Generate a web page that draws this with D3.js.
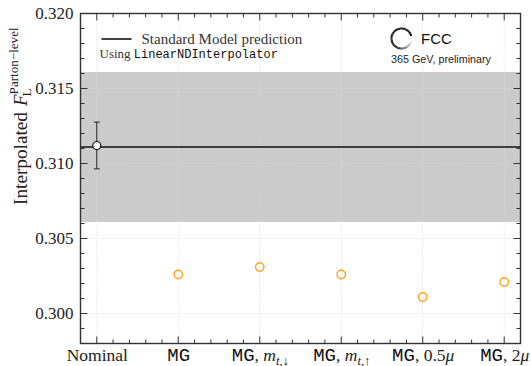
<!DOCTYPE html>
<html>
<head>
<meta charset="utf-8">
<script src="https://cdn.jsdelivr.net/npm/d3@7"></script>
<style>
  html, body { margin: 0; padding: 0; background: #fff; }
  svg { display: block; }
</style>
</head>
<body>
<div id="chart"></div>
<script>
// ---- data ----
const categories = ["Nominal", "MG", "MG_mt_down", "MG_mt_up", "MG_05mu", "MG_2mu"];
// tick label pieces: [text, style]
const tickLabels = [
  [["Nominal", "serif"]],
  [["MG", "mono"]],
  [["MG", "mono"], [", ", "serif"], ["m", "italic"], ["t", "subi"], [",↓", "sub"]],
  [["MG", "mono"], [", ", "serif"], ["m", "italic"], ["t", "subi"], [",↑", "sub"]],
  [["MG", "mono"], [", 0.5", "serif"], ["μ", "italic"]],
  [["MG", "mono"], [", 2", "serif"], ["μ", "italic"]]
];
const nominalValue = 0.3112;
const nominalError = 0.00156;
const variationValues = [0.3026, 0.3031, 0.3026, 0.3011, 0.3021]; // MG variations
const smPrediction = 0.3111;
const smUncertainty = 0.005;
const yTicks = [0.300, 0.305, 0.310, 0.315, 0.320];

// ---- layout ----
const W = 531, H = 366;
const mLeft = 80.5, mRight = 520.5, mTop = 13.5, mBottom = 343.5;

const svg = d3.select("#chart").append("svg").attr("width", W).attr("height", H);

const x = d3.scaleLinear().domain([-0.2, 5.2]).range([mLeft, mRight]);
const y = d3.scaleLinear().domain([0.298, 0.320]).range([mBottom, mTop]);

const serif = "'Liberation Serif', 'DejaVu Serif', serif";
const mono = "'Liberation Mono', 'DejaVu Sans Mono', monospace";
const sans = "'Liberation Sans', Arial, sans-serif";

// clip for plot contents
svg.append("clipPath").attr("id", "plotclip").append("rect")
  .attr("x", mLeft).attr("y", mTop).attr("width", mRight - mLeft).attr("height", mBottom - mTop);
const plot = svg.append("g").attr("clip-path", "url(#plotclip)");

// SM uncertainty band
plot.append("rect")
  .attr("x", mLeft).attr("width", mRight - mLeft)
  .attr("y", y(smPrediction + smUncertainty))
  .attr("height", y(smPrediction - smUncertainty) - y(smPrediction + smUncertainty))
  .attr("fill", "#cbcbcb");

// grid (dotted)
const gridStyle = g => g.attr("stroke", "#d9d9d9").attr("stroke-width", 0.8).attr("stroke-dasharray", "1.2,1.6");
plot.append("g").selectAll("line").data(d3.range(categories.length)).join("line")
  .attr("x1", d => x(d)).attr("x2", d => x(d)).attr("y1", mTop).attr("y2", mBottom).call(gridStyle);
plot.append("g").selectAll("line").data(yTicks).join("line")
  .attr("y1", d => y(d)).attr("y2", d => y(d)).attr("x1", mLeft).attr("x2", mRight).call(gridStyle);

// SM prediction line
plot.append("line")
  .attr("x1", mLeft).attr("x2", mRight)
  .attr("y1", y(smPrediction)).attr("y2", y(smPrediction))
  .attr("stroke", "#111").attr("stroke-width", 1.5);

// nominal point with error bar
const nx = x(0);
plot.append("line").attr("x1", nx).attr("x2", nx)
  .attr("y1", y(nominalValue + nominalError)).attr("y2", y(nominalValue - nominalError))
  .attr("stroke", "#222").attr("stroke-width", 1);
[nominalValue + nominalError, nominalValue - nominalError].forEach(v => {
  plot.append("line").attr("x1", nx - 3).attr("x2", nx + 3)
    .attr("y1", y(v)).attr("y2", y(v)).attr("stroke", "#222").attr("stroke-width", 1);
});
plot.append("circle").attr("cx", nx).attr("cy", y(nominalValue)).attr("r", 4)
  .attr("fill", "#fff").attr("stroke", "#111").attr("stroke-width", 1.2);

// variation points
plot.append("g").selectAll("circle").data(variationValues).join("circle")
  .attr("cx", (d, i) => x(i + 1)).attr("cy", d => y(d)).attr("r", 4.2)
  .attr("fill", "#fff").attr("stroke", "#ffa21a").attr("stroke-width", 1.4);

// ---- axes (ticks pointing inward on all sides) ----
const frame = "#333";
const majorLen = 7, minorLen = 4;
const xMinor = d3.range(-0.2, 5.21, 0.2).filter(v => Math.abs(v - Math.round(v)) > 1e-6);
const yMinor = d3.range(0.298, 0.3201, 0.001).filter(v => yTicks.every(t => Math.abs(t - v) > 1e-6));

const tickG = svg.append("g").attr("stroke", frame).attr("stroke-width", 1);
function hTicks(vals, len) {
  tickG.append("g").selectAll("line").data(vals).join("line")
    .attr("x1", d => x(d)).attr("x2", d => x(d)).attr("y1", mBottom).attr("y2", mBottom - len);
  tickG.append("g").selectAll("line").data(vals).join("line")
    .attr("x1", d => x(d)).attr("x2", d => x(d)).attr("y1", mTop).attr("y2", mTop + len);
}
function vTicks(vals, len) {
  tickG.append("g").selectAll("line").data(vals).join("line")
    .attr("y1", d => y(d)).attr("y2", d => y(d)).attr("x1", mLeft).attr("x2", mLeft + len);
  tickG.append("g").selectAll("line").data(vals).join("line")
    .attr("y1", d => y(d)).attr("y2", d => y(d)).attr("x1", mRight).attr("x2", mRight - len);
}
hTicks(d3.range(categories.length), majorLen);
hTicks(xMinor, minorLen);
vTicks(yTicks, majorLen);
vTicks(yMinor, minorLen);

svg.append("rect").attr("x", mLeft).attr("y", mTop).attr("width", mRight - mLeft).attr("height", mBottom - mTop)
  .attr("fill", "none").attr("stroke", frame).attr("stroke-width", 1.4);

// y tick labels via d3 axis
const yAxis = d3.axisLeft(y).tickValues(yTicks).tickFormat(d3.format(".3f")).tickSize(0).tickPadding(7);
const yg = svg.append("g").attr("transform", `translate(${mLeft},0)`).call(yAxis);
yg.select(".domain").remove();
yg.selectAll("text").attr("font-family", serif).attr("font-size", 17).attr("fill", "#222");

// x tick labels via d3 axis, with rich text
const xAxis = d3.axisBottom(x).tickValues(d3.range(categories.length)).tickFormat("").tickSize(0);
const xg = svg.append("g").attr("transform", `translate(0,${mBottom})`).call(xAxis);
xg.select(".domain").remove();
xg.selectAll(".tick").each(function(d) {
  const t = d3.select(this).append("text")
    .attr("y", 17).attr("text-anchor", "middle").attr("fill", "#222")
    .attr("font-family", serif).attr("font-size", 17.5);
  let lowered = false;
  tickLabels[d].forEach(([s, style]) => {
    const ts = t.append("tspan").text(s);
    if (style === "mono") ts.attr("font-family", mono).attr("font-size", 19).attr("fill", "#111");
    if (style === "italic") ts.attr("font-style", "italic");
    if (style === "sub" || style === "subi") {
      ts.attr("font-size", 12.5);
      if (!lowered) { ts.attr("dy", 4); lowered = true; }
      if (style === "subi") ts.attr("font-style", "italic");
    }
  });
});

// y axis label
const yl = svg.append("g").attr("transform", "translate(27,205) rotate(-90)");
yl.append("text").attr("font-family", serif).attr("font-size", 19).attr("fill", "#222")
  .attr("textLength", 93).attr("lengthAdjust", "spacingAndGlyphs")
  .text("Interpolated");
const w1 = 93 + 6;
const tF = yl.append("text").attr("x", w1).attr("font-family", serif).attr("font-size", 19)
  .attr("font-style", "italic").attr("fill", "#222").text("F");
const wF = tF.node().getComputedTextLength();
yl.append("text").attr("x", w1 + wF - 2).attr("y", 4).attr("font-family", serif).attr("font-size", 13)
  .attr("fill", "#222").text("L");
yl.append("text").attr("x", w1 + wF + 0).attr("y", -9).attr("font-family", serif).attr("font-size", 13)
  .attr("textLength", 67).attr("lengthAdjust", "spacingAndGlyphs")
  .attr("fill", "#222").text("Parton\u2212level");

// legend
svg.append("line").attr("x1", 101.5).attr("x2", 131.5).attr("y1", 39).attr("y2", 39)
  .attr("stroke", "#111").attr("stroke-width", 1.6);
svg.append("text").attr("x", 141.5).attr("y", 44).attr("font-family", serif).attr("font-size", 15)
  .attr("fill", "#333").text("Standard Model prediction");
const using = svg.append("text").attr("x", 99.5).attr("y", 58).attr("font-family", serif)
  .attr("font-size", 13).attr("fill", "#333");
using.append("tspan").text("Using ");
using.append("tspan").attr("font-family", mono).attr("font-size", 12)
  .attr("fill", "#111").text("LinearNDInterpolator");

// FCC badge: open ring, black fading to white towards the gap
const cx = 401.5, cy = 38.5, r = 10;
const ring = svg.append("g").attr("transform", `translate(${cx},${cy})`);
const a0 = 75 * Math.PI / 180;                  // gap edge just above 3 o'clock
const span = 340 * Math.PI / 180;               // sweep counter-clockwise
const nSeg = 68;
const segArc = d3.arc().innerRadius(r - 1).outerRadius(r + 1);
const fade = d3.scaleLinear().domain([0, 0.68, 1]).range(["#000", "#111", "#fff"]);
for (let i = 0; i < nSeg; i++) {
  const s = a0 - span * i / nSeg, e = a0 - span * (i + 1) / nSeg - 0.01;
  ring.append("path")
    .attr("d", segArc({ startAngle: e, endAngle: s }))
    .attr("fill", fade(i / (nSeg - 1)));
}
svg.append("text").attr("x", 421).attr("y", 44).attr("font-family", sans).attr("font-size", 15)
  .attr("fill", "#111").text("FCC");
svg.append("text").attr("x", 391).attr("y", 63).attr("font-family", sans).attr("font-size", 10.5)
  .attr("fill", "#222").attr("textLength", 100).attr("lengthAdjust", "spacingAndGlyphs")
  .text("365 GeV, preliminary");
</script>
</body>
</html>
